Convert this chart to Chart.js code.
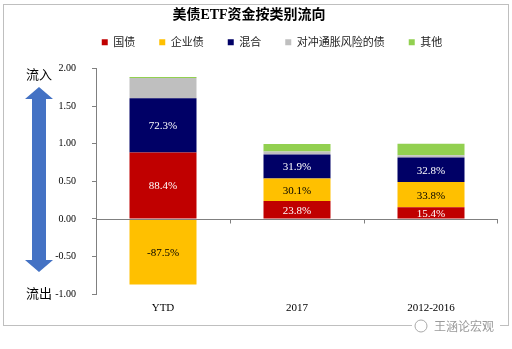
<!DOCTYPE html>
<html>
<head>
<meta charset="utf-8">
<script src="https://cdn.jsdelivr.net/npm/chart.js@4.4.1/dist/chart.umd.min.js"></script>
<style>
  html, body { margin: 0; padding: 0; background: #fff; }
  #wrap { width: 512px; height: 349px; position: relative; }
</style>
</head>
<body>
<div id="wrap"><canvas id="flowChart"></canvas></div>
<script>
// 美债ETF资金按类别流向
var categories = ["YTD", "2017", "2012-2016"];
var seriesNames = ["国债", "企业债", "混合", "对冲通胀风险的债", "其他"];
var treasury = [0.884, 0.238, 0.154];
var corporate = [-0.875, 0.301, 0.338];
var mixed = [0.723, 0.319, 0.328];
var inflation = [0.27, 0.04, 0.03];
var others = [0.015, 0.10, 0.15];
var seriesColors = ["#C00000", "#FFC000", "#000066", "#BFBFBF", "#92D050"];
var labelColors = ["#ffffff", "#000000", "#ffffff"];
var yTicks = [-1.0, -0.5, 0.0, 0.5, 1.0, 1.5, 2.0];

var serif = "'Liberation Serif', 'Times New Roman', 'Noto Sans CJK SC', serif";
var cjk = "'Noto Sans CJK SC', 'Liberation Serif', sans-serif";

var allSeries = [treasury, corporate, mixed, inflation, others];
var datasets = seriesNames.map(function (name, i) {
    return {
        label: name,
        data: allSeries[i],
        backgroundColor: seriesColors[i],
        borderWidth: 0,
        barPercentage: 0.5,
        categoryPercentage: 1.0
    };
});

// frame, zero line, arrow and side captions
var decorations = {
    id: "decorations",
    beforeLayout: function (chart) {
        // keep the legend row compact vertically
        var lg = chart.legend;
        if (lg && !lg._compact) {
            var fit = lg.fit;
            lg.fit = function () {
                fit.call(this);
                this.height = Math.max(0, this.height - 7);
            };
            lg._compact = true;
        }
    },
    afterLayout: function (chart) {
        var lg = chart.legend;
        var dy = lg.top - 12.8;
        lg.top -= dy;
        lg.bottom -= dy;
        lg.left += 23;
        lg.right += 23;
    },
    beforeDraw: function (chart) {
        var ctx = chart.ctx;
        ctx.save();
        ctx.fillStyle = "#fff";
        ctx.fillRect(0, 0, chart.width, chart.height);
        ctx.strokeStyle = "#BFBFBF";
        ctx.lineWidth = 1;
        ctx.strokeRect(3.5, 4.5, 505, 321);
        ctx.restore();
    },
    afterDatasetsDraw: function (chart) {
        var ctx = chart.ctx;
        var x = chart.scales.x, y = chart.scales.y;
        var y0 = Math.round(y.getPixelForValue(0)) + 0.5;
        ctx.save();
        ctx.strokeStyle = "#808080";
        ctx.lineWidth = 1;
        ctx.beginPath();
        ctx.moveTo(chart.chartArea.left, y0);
        ctx.lineTo(chart.chartArea.right, y0);
        // category boundary ticks
        for (var i = 1; i <= categories.length; i++) {
            var bx = Math.round((x.getPixelForValue(i - 1) + x.getPixelForValue(i)) / 2) + 0.5;
            if (i === categories.length) bx = Math.round(chart.chartArea.right) - 0.5;
            ctx.moveTo(bx, y0);
            ctx.lineTo(bx, y0 + 4);
        }
        ctx.stroke();

        // value labels on the first three series
        ctx.font = "11px " + serif;
        ctx.textAlign = "center";
        ctx.textBaseline = "middle";
        for (var d = 0; d < 3; d++) {
            var meta = chart.getDatasetMeta(d);
            meta.data.forEach(function (bar, j) {
                var v = chart.data.datasets[d].data[j];
                var cy = (bar.y + bar.base) / 2;
                ctx.fillStyle = labelColors[d];
                ctx.fillText((v * 100).toFixed(1) + "%", bar.x, cy + 1);
            });
        }

        // inflow / outflow arrow
        var ax = 39, top = 87, bot = 272;
        ctx.fillStyle = "#4472C4";
        ctx.beginPath();
        ctx.moveTo(ax, top);
        ctx.lineTo(ax + 14, top + 12);
        ctx.lineTo(ax + 7, top + 12);
        ctx.lineTo(ax + 7, bot - 12);
        ctx.lineTo(ax + 14, bot - 12);
        ctx.lineTo(ax, bot);
        ctx.lineTo(ax - 14, bot - 12);
        ctx.lineTo(ax - 7, bot - 12);
        ctx.lineTo(ax - 7, top + 12);
        ctx.lineTo(ax - 14, top + 12);
        ctx.closePath();
        ctx.fill();

        ctx.fillStyle = "#000";
        ctx.font = "13px " + cjk;
        ctx.fillText("流入", 39, 74);
        ctx.fillText("流出", 39, 293);

        // watermark
        ctx.fillStyle = "#fff";
        ctx.fillRect(412, 318, 88, 16);
        ctx.strokeStyle = "#AAAAAA";
        ctx.beginPath();
        ctx.arc(421, 326, 6, 0, Math.PI * 2);
        ctx.stroke();
        ctx.fillStyle = "#9A9A9A";
        ctx.font = "12px " + cjk;
        ctx.textAlign = "left";
        ctx.fillText("王涵论宏观", 434, 326);
        ctx.restore();
    }
};

var chart = new Chart(document.getElementById("flowChart"), {
    type: "bar",
    data: { labels: categories, datasets: datasets },
    options: {
        responsive: true,
        maintainAspectRatio: false,
        animation: false,
        layout: { padding: { left: 0, right: 14, top: 4, bottom: 30 } },
        plugins: {
            title: {
                display: true,
                text: "美债ETF资金按类别流向",
                color: "#000",
                font: { size: 14, weight: "bold", family: serif },
                padding: { top: 3, bottom: 7 }
            },
            legend: {
                position: "top",
                labels: {
                    boxWidth: 6,
                    boxHeight: 6,
                    padding: 24,
                    color: "#222",
                    font: { size: 11, family: cjk }
                }
            },
            tooltip: { enabled: false }
        },
        scales: {
            x: {
                stacked: true,
                grid: { display: false },
                border: { display: false },
                ticks: { color: "#000", font: { size: 11, family: serif }, padding: 0 },
                afterFit: function (scale) { scale.height = 25; }
            },
            y: {
                stacked: true,
                min: -1,
                max: 2,
                afterBuildTicks: function (scale) {
                    scale.ticks = yTicks.map(function (v) { return { value: v }; });
                },
                ticks: {
                    color: "#000",
                    padding: 16,
                    font: { size: 10, family: serif },
                    callback: function (v) { return Number(v).toFixed(2); }
                },
                grid: { drawOnChartArea: false, tickLength: 4, color: "#808080" },
                border: { color: "#808080" },
                afterFit: function (scale) { scale.width = 96; }
            }
        }
    },
    plugins: [decorations]
});
</script>
</body>
</html>
